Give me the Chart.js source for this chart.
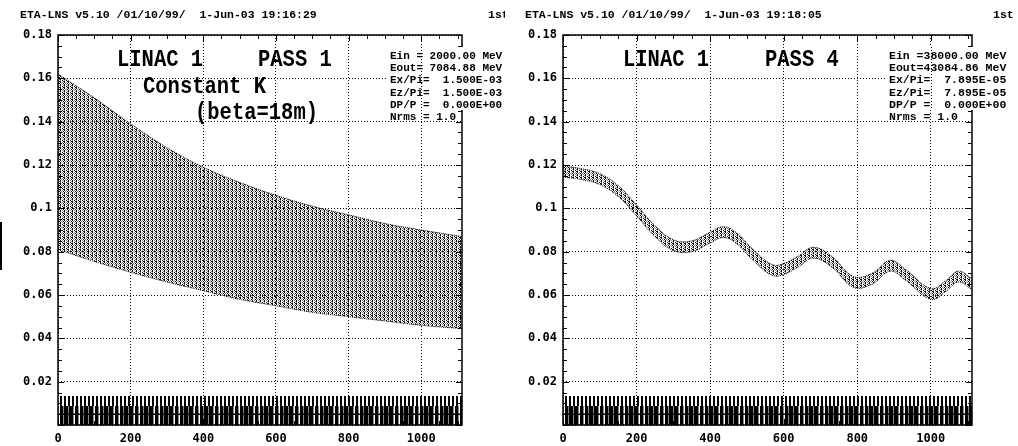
<!DOCTYPE html>
<html>
<head>
<meta charset="utf-8">
<script src="https://cdn.jsdelivr.net/npm/chart.js@4.4.1/dist/chart.umd.min.js"></script>
<style>
  html, body { margin: 0; padding: 0; background: #fff; overflow: hidden; }
  #left { position: absolute; left: 0; top: 0; }
  #right { position: absolute; left: 505px; top: 0; }
</style>
</head>
<body>
<canvas id="left" width="510" height="446"></canvas>
<canvas id="right" width="513" height="446"></canvas>
<script>
// axis ranges and ticks
const xMax = 1112;
const yMax = 0.18;

// pass 1 : envelope of the beam (upper / lower edge of the band)
const leftX = [0, 100, 200, 300, 400, 500, 600, 700, 800, 900, 1000, 1112];
const leftUpper = [0.162, 0.151, 0.139, 0.128, 0.119, 0.112, 0.106, 0.101, 0.097, 0.093, 0.090, 0.087];
const leftLower = [0.081, 0.0755, 0.0705, 0.066, 0.062, 0.058, 0.055, 0.052, 0.050, 0.048, 0.046, 0.0445];

// pass 4 : oscillating band
const rightX = [0, 50, 100, 150, 200, 250, 300, 350, 400, 435, 470, 520, 570, 600, 640, 680, 730, 790, 840, 890, 930, 1000, 1040, 1075, 1112];
const rightUpper = [0.1195, 0.1183, 0.116, 0.1105, 0.1015, 0.092, 0.0855, 0.085, 0.089, 0.0915, 0.089, 0.0805, 0.074, 0.0745, 0.078, 0.082, 0.078, 0.0685, 0.07, 0.076, 0.072, 0.063, 0.0665, 0.071, 0.0675];
const rightLower = [0.1145, 0.1133, 0.111, 0.1055, 0.0965, 0.087, 0.0805, 0.08, 0.084, 0.0865, 0.084, 0.0755, 0.069, 0.0695, 0.073, 0.077, 0.073, 0.0635, 0.065, 0.071, 0.067, 0.058, 0.0615, 0.066, 0.0625];

// lattice strip at the bottom
const stripX = [0, 1112];
const magnetTop = [0.0134, 0.0134];
const quadTop = [0.0088, 0.0088];
const centreLine = [0.005, 0.005];

// texts
const leftHeader = 'ETA-LNS v5.10 /01/10/99/  1-Jun-03 19:16:29';
const rightHeader = 'ETA-LNS v5.10 /01/10/99/  1-Jun-03 19:18:05';
const leftTitles = ['LINAC 1', 'PASS 1', 'Constant K', '(beta=18m)'];
const rightTitles = ['LINAC 1', 'PASS 4'];
const leftInfo = ['Ein = 2000.00 MeV', 'Eout= 7084.88 MeV', 'Ex/Pi=  1.500E-03', 'Ez/Pi=  1.500E-03', 'DP/P =  0.000E+00', 'Nrms = 1.0'];
const rightInfo = ['Ein =38000.00 MeV', 'Eout=43084.86 MeV', 'Ex/Pi=  7.895E-05', 'Ez/Pi=  7.895E-05', 'DP/P =  0.000E+00', 'Nrms = 1.0'];

function toPoints(xs, ys) {
    return xs.map((x, i) => ({ x: x, y: ys[i] }));
}

// little pixel patterns for the dense dotted textures
function makePattern(rows) {
    const c = document.createElement('canvas');
    c.width = rows[0].length;
    c.height = rows.length;
    const g = c.getContext('2d');
    rows.forEach((r, j) => {
        [...r].forEach((ch, i) => {
            if (ch === '.') return;
            g.fillStyle = ch === 'x' ? '#000' : '#8a8a8a';
            g.fillRect(i, j, 1, 1);
        });
    });
    return g.createPattern(c, 'repeat');
}

const bandPattern = makePattern(['x.o.', 'x..o', 'o.x.', 'x..x', 'x.o.', '.o.x']);
const magnetPattern = makePattern(['xx..']);
const quadPattern = makePattern(['xxxo.']);

const framePlugin = {
    id: 'frame',
    beforeDraw(chart) {
        const ctx = chart.ctx;
        ctx.save();
        ctx.fillStyle = '#fff';
        ctx.fillRect(0, 0, chart.width, chart.height);
        ctx.restore();
    },
    afterDraw(chart, args, opts) {
        const { ctx, chartArea: a } = chart;
        const x = chart.scales.x, y = chart.scales.y;
        ctx.save();
        ctx.strokeStyle = '#000';
        ctx.lineWidth = 1;
        ctx.beginPath();
        for (let v = 0; v <= xMax; v += 50) {
            const px = Math.round(x.getPixelForValue(v)) + 0.5;
            const len = v % 200 === 0 ? 6 : 4;
            ctx.moveTo(px, a.bottom); ctx.lineTo(px, a.bottom - len);
            ctx.moveTo(px, a.top); ctx.lineTo(px, a.top + len);
        }
        for (let i = 0; i <= 36; i++) {
            const py = Math.round(y.getPixelForValue(i * 0.005)) + 0.5;
            const len = i % 4 === 0 ? 6 : 4;
            ctx.moveTo(a.left, py); ctx.lineTo(a.left + len, py);
            ctx.moveTo(a.right, py); ctx.lineTo(a.right - len, py);
        }
        ctx.stroke();

        // header line
        ctx.fillStyle = '#000';
        ctx.font = 'bold 11.5px "Liberation Mono"';
        ctx.fillText(opts.header, 20, 18);
        ctx.fillText('1st', 488, 18);

        // frame, then the info box on top of it
        ctx.lineWidth = 1.5;
        ctx.strokeRect(a.left, a.top, a.width, a.height);
        ctx.fillStyle = '#fff';
        ctx.fillRect(opts.infoX - 2, 47, chart.width, 63);
        ctx.lineWidth = 1;
        ctx.setLineDash([1, 2]);
        ctx.beginPath();
        const gx = Math.round(x.getPixelForValue(1000)) + 0.5;
        ctx.moveTo(gx, 47); ctx.lineTo(gx, 110);
        ctx.stroke();
        ctx.setLineDash([]);
        ctx.fillStyle = '#000';
        ctx.font = 'bold ' + opts.infoSize + 'px "Liberation Mono"';
        opts.info.forEach((t, i) => ctx.fillText(t, opts.infoX, 59 + i * 12.2));

        // big titles
        ctx.font = 'bold 20.5px "Liberation Mono"';
        opts.titles.forEach((t, i) => {
            const p = opts.titlePos[i];
            ctx.save();
            ctx.translate(p[0], p[1]);
            ctx.scale(1, 1.15);
            ctx.fillText(t, 0, 0);
            ctx.restore();
        });

        if (opts.mark) {
            ctx.fillRect(0, 222, 2, 48);
        }
        ctx.restore();
    }
};

function makeChart(id, upperX, upper, lower, frameOpts) {
    const ctx = document.getElementById(id).getContext('2d');
    return new Chart(ctx, {
        type: 'line',
        data: {
            datasets: [{
                data: toPoints(upperX, upper),
                borderColor: '#000',
                borderWidth: 1,
                borderDash: [1, 1],
                backgroundColor: bandPattern,
                fill: '+1',
                tension: 0.4,
                pointRadius: 0,
                order: 1
            }, {
                data: toPoints(upperX, lower),
                borderColor: '#000',
                borderWidth: 1,
                borderDash: [1, 1],
                fill: false,
                tension: 0.4,
                pointRadius: 0,
                order: 1
            }, {
                data: toPoints(stripX, magnetTop),
                borderWidth: 0,
                backgroundColor: magnetPattern,
                fill: 'origin',
                pointRadius: 0,
                order: 4
            }, {
                data: toPoints(stripX, quadTop),
                borderWidth: 0,
                backgroundColor: quadPattern,
                fill: 'origin',
                pointRadius: 0,
                order: 3
            }, {
                data: toPoints(stripX, centreLine),
                borderColor: '#000',
                borderWidth: 1.5,
                fill: false,
                pointRadius: 0,
                order: 2
            }]
        },
        options: {
            responsive: false,
            animation: false,
            devicePixelRatio: 1,
            layout: { padding: { left: 0, right: id === 'left' ? 48 : 46, top: 35, bottom: 0 } },
            plugins: {
                legend: { display: false },
                tooltip: { enabled: false },
                frame: frameOpts
            },
            scales: {
                x: {
                    type: 'linear',
                    min: 0,
                    max: xMax,
                    afterFit: (s) => { s.height = 21; },
                    ticks: {
                        stepSize: 200,
                        includeBounds: false,
                        maxRotation: 0,
                        padding: 7,
                        color: '#000',
                        font: { family: 'DejaVu Sans Mono', size: 12, weight: 'bold' },
                        callback: (v) => String(v)
                    },
                    grid: { color: '#000', lineWidth: 1, drawTicks: false },
                    border: { display: false, dash: [1, 2] }
                },
                y: {
                    min: 0,
                    max: yMax,
                    afterFit: (s) => { s.width = 58; },
                    ticks: {
                        stepSize: 0.02,
                        padding: 6,
                        color: '#000',
                        font: { family: 'DejaVu Sans Mono', size: 12, weight: 'bold' },
                        callback: (v) => v === 0 ? '' : String(parseFloat(v.toFixed(2)))
                    },
                    grid: { color: '#000', lineWidth: 1, drawTicks: false },
                    border: { display: false, dash: [1, 2] }
                }
            }
        },
        plugins: [framePlugin]
    });
}

makeChart('left', leftX, leftUpper, leftLower, {
    header: leftHeader,
    titles: leftTitles,
    titlePos: [[117, 66], [258, 66], [143, 93], [195, 119]],
    info: leftInfo,
    infoX: 390,
    infoSize: 11,
    mark: true
});

makeChart('right', rightX, rightUpper, rightLower, {
    header: rightHeader,
    titles: rightTitles,
    titlePos: [[118, 66], [260, 66]],
    info: rightInfo,
    infoX: 384,
    infoSize: 11.5,
    mark: false
});
</script>
</body>
</html>
